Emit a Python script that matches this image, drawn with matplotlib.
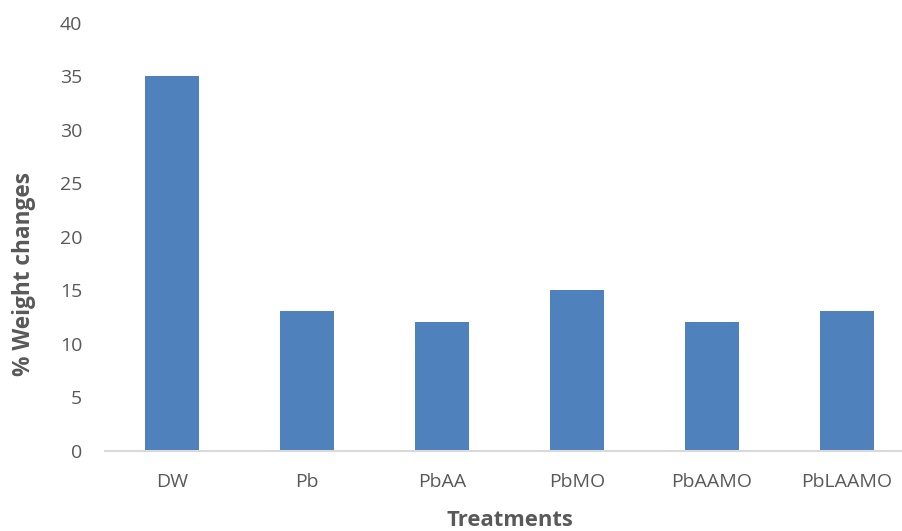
import matplotlib.pyplot as plt

treatments = ['DW', 'Pb', 'PbAA', 'PbMO', 'PbAAMO', 'PbLAAMO']
weight_change = [35, 13, 12, 15, 12, 13]

plt.rcParams['font.family'] = ['Open Sans', 'DejaVu Sans']
txt = '#595959'

fig = plt.figure(figsize=(9.02, 5.31), dpi=100)
ax = fig.add_axes([0.1159, 0.1516, 0.898, 0.806])

ax.bar(range(len(treatments)), weight_change, width=0.4, color='#4F81BD')

ax.set_xlim(-0.5, len(treatments) - 0.5)
ax.set_ylim(0, 40)
ax.set_yticks(range(0, 41, 5))
ax.set_xticks(range(len(treatments)))
ax.set_xticklabels(treatments)

for s in ['top', 'right', 'left']:
    ax.spines[s].set_visible(False)
ax.spines['bottom'].set_color('#D9D9D9')
ax.spines['bottom'].set_linewidth(1.5)
ax.tick_params(axis='both', length=0, labelsize=14, colors=txt)
ax.tick_params(axis='y', pad=16)
ax.tick_params(axis='x', pad=16)

# axis titles placed on the figure
fig.text(510 / 902, 0.5 / 531, 'Treatments', fontsize=15.8, fontweight='bold',
         color=txt, ha='center', va='bottom')
fig.text(24 / 902, 1 - 273.5 / 531, '% Weight changes', fontsize=16.3,
         fontweight='bold', color=txt, ha='center', va='center', rotation=90)

fig.savefig('out.png', dpi=100)
